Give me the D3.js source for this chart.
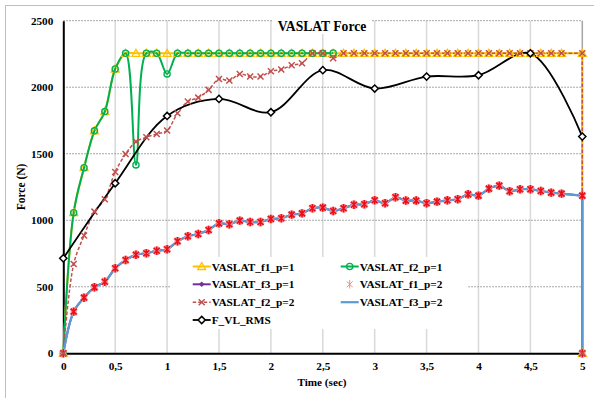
<!DOCTYPE html>
<html><head><meta charset="utf-8">
<script src="https://cdn.jsdelivr.net/npm/d3@7"></script>
<style>body{margin:0;background:#fff}svg{display:block}text{font-family:"Liberation Serif","Times New Roman",serif;font-weight:bold;fill:#000}</style>
</head><body><svg id="c" width="594" height="398"></svg>
<script>
// ---- data ----
const times = [0,0.1,0.2,0.3,0.4,0.5,0.6,0.7,0.8,0.9,1.0,1.1,1.2,1.3,1.4,1.5,1.6,1.7,1.8,1.9,2.0,2.1,2.2,2.3,2.4,2.5,2.6,2.7,2.8,2.9,3.0,3.1,3.2,3.3,3.4,3.5,3.6,3.7,3.8,3.9,4.0,4.1,4.2,4.3,4.4,4.5,4.6,4.7,4.8,5,5];
const f1_p1 = [0,1057,1395,1672,1817,2137,2255,2255,2255,2255,2255,2255,2255,2255,2255,2255,2255,2255,2255,2255,2255,2255,2255,2255,2255,2255,2255,2255,2255,2255,2255,2255,2255,2255,2255,2255,2255,2255,2255,2255,2255,2255,2255,2255,2255,2255,2255,2255,2255,2255,0];
const f2_p1 = [0,1057,1395,1672,1817,2137,2255,1416,2255,2255,2100,2255,2255,2255,2255,2255,2255,2255,2255,2255,2255,2255,2255,2255,2255,2255,2258,null,null,null,null,null,null,null,null,null,null,null,null,null,null,null,null,null,null,null,null,null,null,null,null];
const f3_p1 = [0,313,418,496,538,639,701,741,752,771,782,842,880,897,927,977,970,997,987,987,1010,1015,1042,1052,1090,1095,1070,1090,1117,1120,1150,1128,1173,1148,1148,1128,1140,1150,1158,1195,1185,1238,1260,1218,1233,1233,1220,1208,1200,1185,0];
const f1_p2 = [0,313,418,496,538,639,701,741,752,771,782,842,880,897,927,977,970,997,987,987,1010,1015,1042,1052,1090,1095,1070,1090,1117,1120,1150,1128,1173,1148,1148,1128,1140,1150,1158,1195,1185,1238,1260,1218,1233,1233,1220,1208,1200,1185,0];
const f2_p2 = [0,671,885,1065,1158,1363,1498,1591,1624,1649,1674,1805,1892,1922,1980,2062,2050,2100,2080,2080,2120,2133,2165,2180,2255,2255,2218,2255,2255,2255,2255,2255,2255,2255,2255,2255,2255,2255,2255,2255,2255,2255,2255,2255,2255,2255,2255,2255,2255,2255,0];
const f3_p2 = [0,313,418,496,538,639,701,741,752,771,782,842,880,897,927,977,970,997,987,987,1010,1015,1042,1052,1090,1095,1070,1090,1117,1120,1150,1128,1173,1148,1148,1128,1140,1150,1158,1195,1185,1238,1260,1218,1233,1233,1220,1208,1200,1185,0];
const rmsTimes = [0,0.5,1,1.5,2,2.5,3,3.5,4,4.5,5];
const rms = [714,1278,1784,1912,1812,2128,1990,2080,2090,2255,1629];
const xTicks = [0,0.5,1,1.5,2,2.5,3,3.5,4,4.5,5];
const xTickLabels = ["0","0,5","1","1,5","2","2,5","3","3,5","4","4,5","5"];
const yTicks = [0,500,1000,1500,2000,2500];
const yTickLabels = ["0","500","1000","1500","2000","2500"];
const seriesNames = ["VASLAT_f1_p=1","VASLAT_f2_p=1","VASLAT_f3_p=1","VASLAT_f1_p=2","VASLAT_f2_p=2","VASLAT_f3_p=2","F_VL_RMS"];
const titleText = "VASLAT Force";
const xTitle = "Time (sec)";
const yTitle = "Force (N)";

// ---- setup ----
const svg = d3.select("#c");
const x = d3.scaleLinear().domain([0,5]).range([63.3,582.3]);
const y = d3.scaleLinear().domain([0,2500]).range([353.3,20.7]);
const FONT = "Liberation Serif, Times New Roman, serif";

svg.append("rect").attr("x",5.5).attr("y",5.5).attr("width",620).attr("height",420)
  .attr("fill","#fff").attr("stroke","#BFBFBF").attr("stroke-width",1);

// gridlines
svg.append("g").selectAll("line").data(xTicks.filter(d=>d>0)).join("line")
  .attr("x1",d=>x(d)).attr("x2",d=>x(d)).attr("y1",y(2500)).attr("y2",y(0))
  .attr("stroke",d=>d===5?"#A6A6A6":"#D9D9D9").attr("stroke-width",1.5);
svg.append("g").selectAll("line").data(yTicks.filter(d=>d>0)).join("line")
  .attr("x1",x(0)).attr("x2",x(5)).attr("y1",d=>y(d)).attr("y2",d=>y(d))
  .attr("stroke","#8C8C8C").attr("stroke-width",1).attr("stroke-dasharray","1.5,1.5");

// title background + title
svg.append("rect").attr("x",272).attr("y",12).attr("width",100).attr("height",22).attr("fill","#fff");
svg.append("text").attr("x",322).attr("y",30.5).attr("text-anchor","middle").attr("font-size",13.6).text(titleText);

// legend background
svg.append("rect").attr("x",170).attr("y",257).attr("width",298).attr("height",72).attr("fill","#fff");

// axes
const xAxis = d3.axisBottom(x).tickValues(xTicks).tickFormat((d,i)=>xTickLabels[i]).tickSize(0).tickPadding(9);
const yAxis = d3.axisLeft(y).tickValues(yTicks).tickFormat((d,i)=>yTickLabels[i]).tickSize(0).tickPadding(10);
const gx = svg.append("g").attr("transform",`translate(0,${y(0)})`).call(xAxis);
const gy = svg.append("g").attr("transform",`translate(${x(0)},0)`).call(yAxis);
[gx,gy].forEach(g=>{
  g.attr("font-family",FONT);
  g.select(".domain").attr("stroke","#000").attr("stroke-width",2);
  g.selectAll("text").attr("font-size",11.2).attr("font-family",FONT).attr("font-weight","bold").attr("fill","#000");
});
gx.selectAll("text").attr("dy","0.71em");

svg.append("text").attr("x",322).attr("y",385.5).attr("text-anchor","middle").attr("font-size",11.2).text(xTitle);
svg.append("text").attr("transform","translate(25,187) rotate(-90)").attr("text-anchor","middle").attr("font-size",11.5).text(yTitle);

// ---- series ----
const curve = d3.curveCatmullRom.alpha(0.5);
function pts(ts, vs){ return ts.map((t,i)=>[t, vs[i]]); }
const smoothGen = d3.line().x(d=>x(d[0])).y(d=>y(d[1])).curve(curve);
const straightGen = d3.line().x(d=>x(d[0])).y(d=>y(d[1]));
// smooth through points; trailing points sharing the same time are joined straight (vertical drop)
function pathFor(data){
  const def = data.filter(d=>d[1]!=null);
  let k = def.length-1;
  while(k>0 && def[k-1][0]===def[k][0]) k--;
  let p = smoothGen(def.slice(0,k+1));
  if(k < def.length-1) p += straightGen(def.slice(k)).replace(/^M/,"L");
  return p;
}

const marker = {
  tri: "M0,-4L4,3L-4,3Z",
  circ: d3.symbol(d3.symbolCircle, 30)(),
  dia: "M0,-3.6L3.6,0L0,3.6L-3.6,0Z",
  sdia: "M0,-2.5L2.5,0L0,2.5L-2.5,0Z",
  x: "M-3,-3L3,3M-3,3L3,-3",
  ast: "M-3,-3L3,3M-3,3L3,-3M0,-4.2L0,4.2"
};

const series = [
  {name:seriesNames[0], data:pts(times,f1_p1), color:"#FFC000", w:2, line:true, m:"tri", mStroke:"#FFC000", mFill:"none", mw:1.3},
  {name:seriesNames[1], data:pts(times,f2_p1), color:"#00B050", w:2, line:true, m:"circ", mStroke:"#00B050", mFill:"none", mw:1.3},
  {name:seriesNames[2], data:pts(times,f3_p1), color:"#7030A0", w:2, line:true, m:"sdia", mStroke:"#7030A0", mFill:"#7030A0", mw:0.5},
  {name:seriesNames[3], data:pts(times,f1_p2), color:"#FF0000", w:0, line:false, m:"ast", mStroke:"#E8101A", mFill:"none", mw:1.6, halo:"#FF9A9A"},
  {name:seriesNames[4], data:pts(times,f2_p2), color:"#C0504D", w:1.5, line:true, dash:"3.5,2", m:"x", mStroke:"#C0504D", mFill:"none", mw:1.5},
  {name:seriesNames[5], data:pts(times,f3_p2), color:"#5B9BD5", w:2.2, line:true, m:null},
  {name:seriesNames[6], data:pts(rmsTimes,rms), color:"#000000", w:1.8, line:true, m:"dia", mStroke:"#000", mFill:"#fff", mw:1.5}
];

const gLines = svg.append("g"), gMarks = svg.append("g");
series.forEach(s=>{
  if(s.line){
    gLines.append("path").attr("d",pathFor(s.data)).attr("fill","none").attr("stroke",s.color)
      .attr("stroke-width",s.w).attr("stroke-dasharray",s.dash||null).attr("stroke-linejoin","round");
  }
});
series.forEach(s=>{
  if(!s.m) return;
  const data = s.data.filter(d=>d[1]!=null);
  const g = gMarks.append("g");
  if(s.halo){
    g.selectAll("path.h").data(data).join("path").attr("class","h").attr("d",marker[s.m])
      .attr("transform",d=>`translate(${x(d[0])},${y(d[1])})`)
      .attr("fill","none").attr("stroke",s.halo).attr("stroke-width",3.2);
  }
  g.selectAll("path.m").data(data).join("path").attr("class","m").attr("d",marker[s.m])
    .attr("transform",d=>`translate(${x(d[0])},${y(d[1])})`)
    .attr("fill",s.mFill).attr("stroke",s.mStroke).attr("stroke-width",s.mw);
});

// ---- legend ----
const legPos = [[192.7,266.5],[340.7,266.5],[192.7,284.3],[340.7,284.3],[192.7,302.2],[340.7,302.2],[192.7,320]];
const lg = svg.append("g");
series.forEach((s,i)=>{
  const [lx,ly] = legPos[i];
  const g = lg.append("g").attr("transform",`translate(${lx},${ly})`);
  if(s.line){
    g.append("line").attr("x1",0).attr("x2",18).attr("y1",0).attr("y2",0).attr("stroke",s.color)
      .attr("stroke-width",s.w).attr("stroke-dasharray",s.dash||null);
  }
  if(s.m){
    g.append("path").attr("d",marker[s.m]).attr("transform","translate(9,0)")
      .attr("fill",s.mFill).attr("stroke",s.halo?"#FF8585":s.mStroke).attr("stroke-width",s.halo?1:s.mw);
  }
  g.append("text").attr("x",19).attr("y",4).attr("font-size",11.3).text(s.name);
});
</script></body></html>
